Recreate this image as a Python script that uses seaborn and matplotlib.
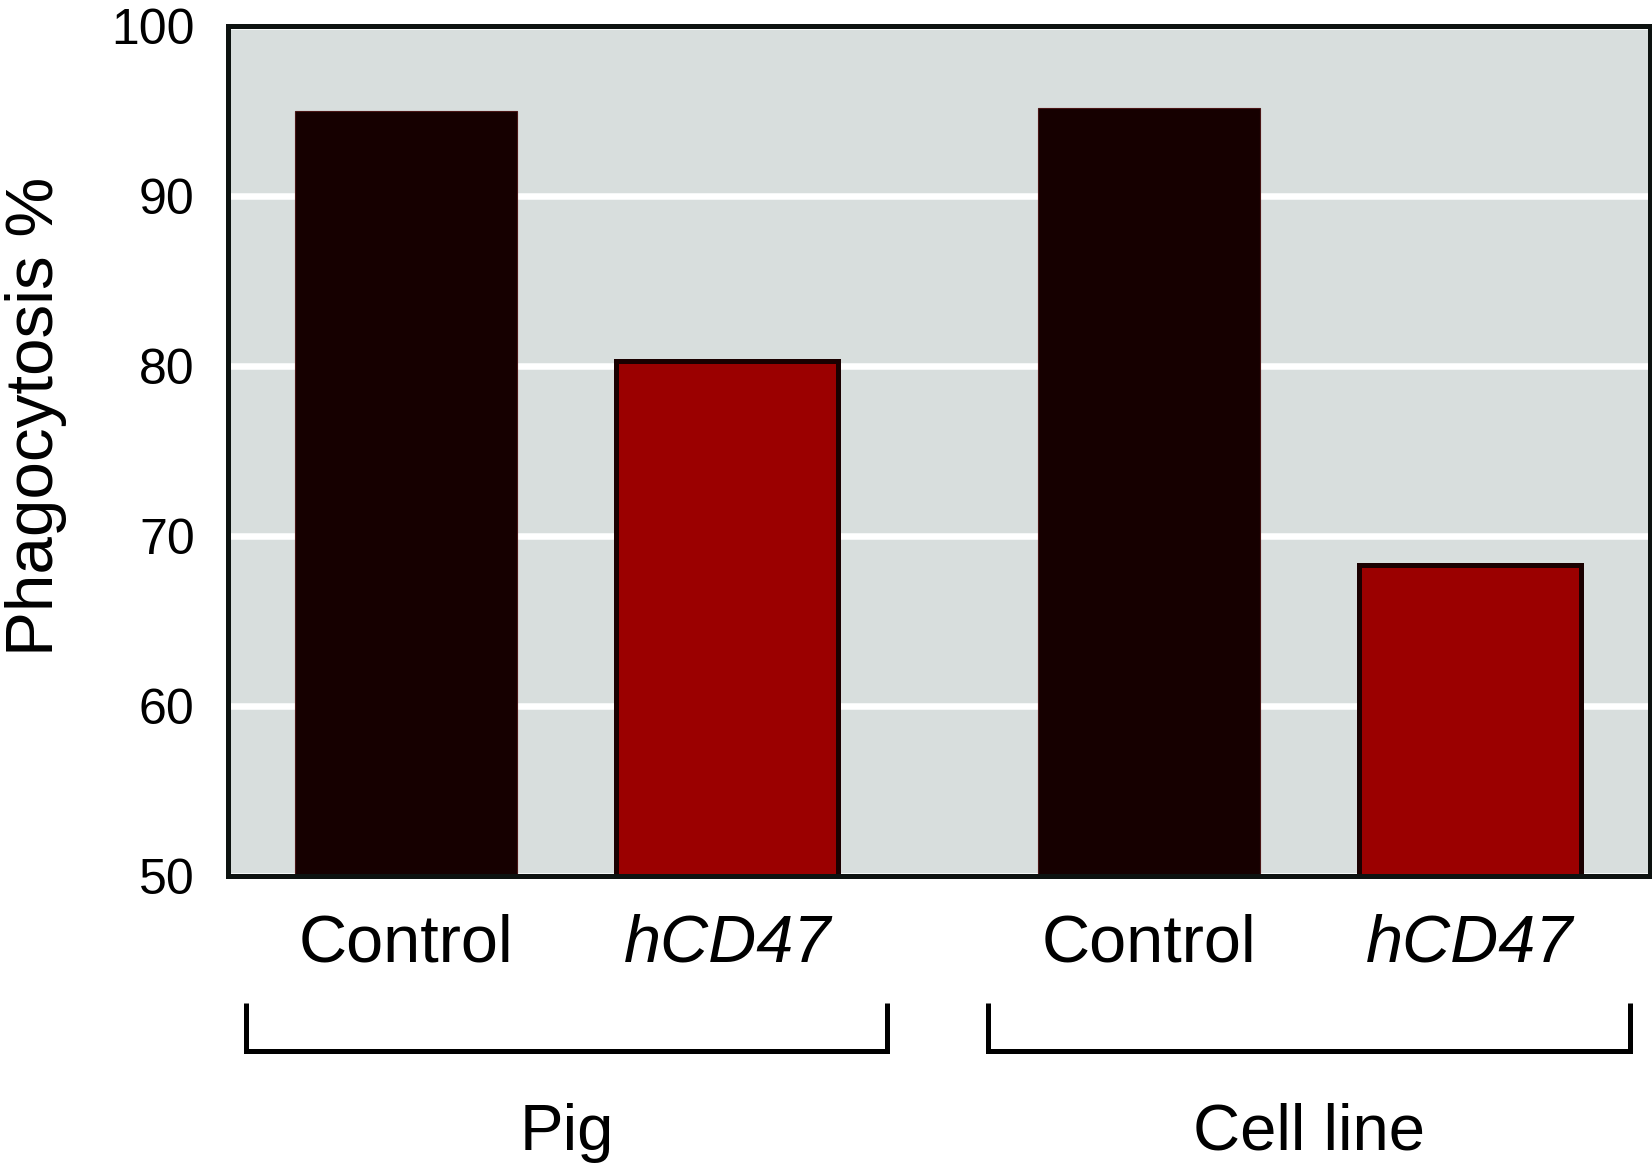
import matplotlib
matplotlib.use("Agg")
import matplotlib.pyplot as plt
import matplotlib.transforms as mtransforms
import seaborn as sns
import pandas as pd

# ---- data ----
groups = ["Pig", "Pig", "Cell line", "Cell line"]
conditions = ["Control", "hCD47", "Control", "hCD47"]
phagocytosis = [95.0, 80.3, 95.2, 68.3]
group_order = ["Pig", "Cell line"]
condition_order = ["Control", "hCD47"]
yticks = [50, 60, 70, 80, 90, 100]
ylabel = "Phagocytosis %"

df = pd.DataFrame({"group": groups, "condition": conditions, "value": phagocytosis})

sns.set_theme(style="whitegrid")
plt.rcParams["font.family"] = ["Liberation Sans", "DejaVu Sans"]

fig = plt.figure(figsize=(16.52, 11.72), dpi=100)
ax = fig.add_axes([0.138, 0.2526, 0.8608, 0.7253])
ax.set_facecolor("#d8dedd")

sns.barplot(data=df, x="group", y="value", hue="condition",
            order=group_order, hue_order=condition_order,
            palette={"Control": "#160000", "hCD47": "#9b0000"},
            width=0.865, gap=0.309, saturation=1, errorbar=None,
            legend=False, ax=ax)

ax.set_ylim(50, 100)
ax.set_xlim(-0.456, 1.459)
ax.set_yticks(yticks)
ax.set_xticks([])
ax.set_xlabel("")
ax.grid(axis="y", color="white", linewidth=4.7)
ax.grid(axis="x", visible=False)
ax.set_axisbelow(True)
ax.tick_params(axis="y", length=0, pad=24, labelsize=36, labelcolor="black")

for s in ax.spines.values():
    s.set_visible(True)
    s.set_color("#0d1210")
    s.set_linewidth(3.6)

trans = mtransforms.blended_transform_factory(ax.transData, ax.transAxes)

for container, cond in zip(ax.containers, condition_order):
    for bar in container:
        if cond == "hCD47":
            bar.set_edgecolor("#1a0000")
            bar.set_linewidth(3.6)
        else:
            bar.set_edgecolor("#4a1515")
            bar.set_linewidth(0.8)
        xc = bar.get_x() + bar.get_width() / 2
        ax.text(xc, -0.101, cond, transform=trans, ha="center", va="baseline",
                fontsize=48, style="italic" if cond == "hCD47" else "normal",
                color="black", clip_on=False)

half = 0.432
for i, g in enumerate(group_order):
    ax.plot([i - half, i - half, i + half, i + half], [-0.149, -0.206, -0.206, -0.149],
            transform=trans, clip_on=False, color="black", linewidth=3.6,
            solid_joinstyle="miter", solid_capstyle="butt")
    ax.text(i, -0.322, g, transform=trans, ha="center", va="baseline",
            fontsize=47, color="black", clip_on=False)

ax.set_ylabel(ylabel, fontsize=48.5, color="black")
ax.yaxis.set_label_coords(-0.1135, 0.5406)

fig.savefig("out.png", dpi=100)
